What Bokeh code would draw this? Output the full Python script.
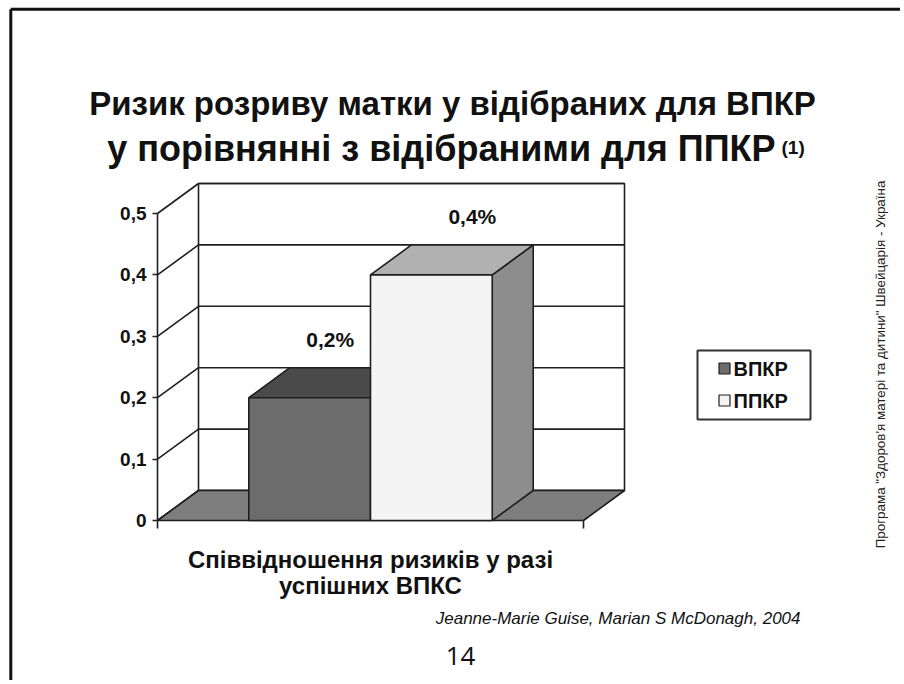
import math
from bokeh.plotting import figure
from bokeh.models import LinearAxis, FixedTicker, CustomJSTickFormatter
from bokeh.core.properties import value
from bokeh.embed import file_html
from bokeh.resources import INLINE

# ---------------- data ----------------
title_lines = ["Ризик розриву матки у відібраних для ВПКР",
               "у порівнянні з відібраними для ППКР"]
title_note = "(1)"
category = "Співвідношення ризиків у разі\nуспішних ВПКС"
series = ["ВПКР", "ППКР"]
values = [0.2, 0.4]
y_ticks = [0, 0.1, 0.2, 0.3, 0.4, 0.5]
source_text = "Jeanne-Marie Guise, Marian S McDonagh, 2004"
side_text = "Програма \"Здоров'я матері та дитини\" Швейцарія - Україна"
page_number = "14"

# ---------------- style ----------------
front_colors = ["#6c6c6c", "#f4f4f4"]
top_colors = ["#4b4b4b", "#b1b1b1"]
side_colors = ["#5a5a5a", "#8d8d8d"]
floor_color = "#7e7e7e"
edge = "#1e1e1e"
FONT = value("Liberation Sans")

W, H = 900, 680
PX_X, PX_Y = 426.0, 614.0            # pixels per category unit / per value unit
ORIGIN_IX, ORIGIN_IY = 157.0, 520.0  # picture position of (0, 0)
DEPTH_X, DEPTH_Y = 41 / PX_X, 30 / PX_Y
GAP = 1.5

def X(ix):
    return (ix - ORIGIN_IX) / PX_X

def Y(iy):
    return (ORIGIN_IY - iy) / PX_Y

p = figure(width=W, height=H, output_backend="svg", toolbar_location=None,
           x_range=(X(0), X(W)), y_range=(Y(H), Y(0)),
           x_axis_type=None, y_axis_type=None,
           min_border=0, min_border_left=0, min_border_right=0,
           min_border_top=0, min_border_bottom=0)
p.outline_line_color = None
p.background_fill_color = "white"
p.border_fill_color = "white"

# slide border (top and left)
p.segment(x0=[X(10.3), X(10.3)], y0=[Y(8.8), Y(8.8)],
          x1=[X(10.3), X(W)], y1=[Y(H), Y(8.8)],
          line_color="#111111", line_width=3)

# ---------------- 3D frame ----------------
ymax = max(y_ticks)
# back wall
p.quad(left=[DEPTH_X], right=[1 + DEPTH_X], bottom=[DEPTH_Y], top=[ymax + DEPTH_Y],
       fill_color="white", line_color=edge, line_width=1.6)
# back wall gridlines
p.segment(x0=[DEPTH_X] * len(y_ticks), x1=[1 + DEPTH_X] * len(y_ticks),
          y0=[t + DEPTH_Y for t in y_ticks], y1=[t + DEPTH_Y for t in y_ticks],
          line_color=edge, line_width=1.6)
# left wall diagonals
p.segment(x0=[0] * len(y_ticks), y0=y_ticks,
          x1=[DEPTH_X] * len(y_ticks), y1=[t + DEPTH_Y for t in y_ticks],
          line_color=edge, line_width=1.6)
# floor
p.patch(x=[0, 1, 1 + DEPTH_X, DEPTH_X], y=[0, 0, DEPTH_Y, DEPTH_Y],
        fill_color=floor_color, line_color=edge, line_width=1.6)
# category boundary ticks below the floor's front edge
p.segment(x0=[0, 1], x1=[0, 1], y0=[0, 0], y1=[-8 / PX_Y, -8 / PX_Y],
          line_color=edge, line_width=1.6)

# ---------------- bars ----------------
n = len(series)
bw = 1.0 / (n + GAP)
start = 0.5 - n * bw / 2
label_depth = [0.5, 1.0]
for i, (name, v) in enumerate(zip(series, values)):
    x0 = start + i * bw
    x1 = x0 + bw
    # side
    p.patch(x=[x1, x1 + DEPTH_X, x1 + DEPTH_X, x1], y=[0, DEPTH_Y, v + DEPTH_Y, v],
            fill_color=side_colors[i], line_color=edge, line_width=1.6)
    # top
    p.patch(x=[x0, x1, x1 + DEPTH_X, x0 + DEPTH_X], y=[v, v, v + DEPTH_Y, v + DEPTH_Y],
            fill_color=top_colors[i], line_color=edge, line_width=1.6)
    # front
    p.quad(left=[x0], right=[x1], bottom=[0], top=[v],
           fill_color=front_colors[i], line_color=edge, line_width=1.6)
    # value label
    p.text(x=[(x0 + x1) / 2 + DEPTH_X * label_depth[i]], y=[v + DEPTH_Y],
           text=[f"{v:.1f}".replace(".", ",") + "%"], y_offset=-28,
           text_font=FONT, text_font_style="bold", text_font_size="21px",
           text_align="center", text_baseline="middle", text_color="#111111")

# ---------------- value axis ----------------
yaxis = LinearAxis(fixed_location=0, bounds=(0, ymax),
                   ticker=FixedTicker(ticks=y_ticks),
                   formatter=CustomJSTickFormatter(
                       code="return tick == 0 ? '0' : tick.toFixed(1).replace('.', ',');"))
yaxis.axis_line_color = edge
yaxis.axis_line_width = 1.6
yaxis.major_tick_line_color = edge
yaxis.major_tick_line_width = 1.6
yaxis.major_tick_out = 5
yaxis.major_tick_in = 0
yaxis.minor_tick_line_color = None
yaxis.major_label_standoff = 6
yaxis.major_label_text_font = "Liberation Sans"
yaxis.major_label_text_font_style = "bold"
yaxis.major_label_text_font_size = "19px"
yaxis.major_label_text_color = "#111111"
p.add_layout(yaxis, "left")

# category label
cat_lines = category.split("\n")
p.text(x=[0.5] * len(cat_lines), y=[Y(559), Y(585)][:len(cat_lines)], text=cat_lines,
       text_font=FONT, text_font_style="bold", text_font_size="24px",
       text_align="center", text_baseline="middle", text_color="#111111")

# ---------------- titles ----------------
p.text(x=[X(452)], y=[Y(103)], text=[title_lines[0]],
       text_font=FONT, text_font_style="bold", text_font_size="33px",
       text_align="center", text_baseline="alphabetic", text_color="#111111")
p.text(x=[X(775)], y=[Y(148)], text=[title_lines[1]],
       text_font=FONT, text_font_style="bold", text_font_size="36px",
       text_align="right", text_baseline="alphabetic", text_color="#111111")
p.text(x=[X(781)], y=[Y(147)], text=[title_note],
       text_font=FONT, text_font_style="bold", text_font_size="19px",
       text_align="left", text_baseline="alphabetic", text_color="#111111")

# ---------------- legend ----------------
p.quad(left=[X(697)], right=[X(810)], top=[Y(350)], bottom=[Y(419)],
       fill_color="white", line_color="#333333", line_width=2)
leg_y = [Y(368), Y(400)]
p.scatter(x=[X(724)] * n, y=leg_y, marker="square", size=11,
          fill_color=front_colors, line_color=edge, line_width=1.2)
p.text(x=[X(733)] * n, y=leg_y, text=series,
       text_font=FONT, text_font_style="bold", text_font_size="20px",
       text_align="left", text_baseline="middle", text_color="#111111")

# ---------------- footer / side ----------------
p.text(x=[X(800)], y=[Y(618)], text=[source_text],
       text_font=FONT, text_font_style="italic", text_font_size="17px",
       text_align="right", text_baseline="middle", text_color="#111111")
p.text(x=[X(460)], y=[Y(655)], text=[page_number],
       text_font=value("Open Sans"), text_font_size="26px",
       text_align="center", text_baseline="middle", text_color="#111111")
p.text(x=[X(880)], y=[Y(364)], text=[side_text], angle=math.pi / 2,
       text_font=FONT, text_font_size="13.4px",
       text_align="center", text_baseline="middle", text_color="#222222")

open("out.html", "w").write(file_html(p, INLINE))
